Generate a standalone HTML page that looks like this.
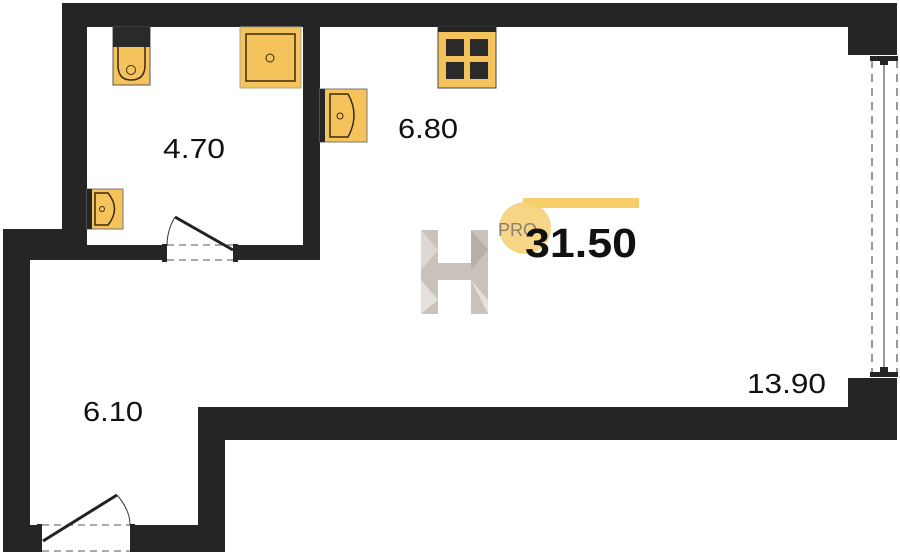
<!DOCTYPE html>
<html><head><meta charset="utf-8"><style>
html,body{margin:0;padding:0;background:#fff;}
svg{display:block;}
text{font-family:"Liberation Sans",sans-serif;}
</style></head><body>
<svg width="900" height="554" viewBox="0 0 900 554" xmlns="http://www.w3.org/2000/svg">
<g fill="#252525">
<rect x="62" y="3" width="835" height="24"/>
<rect x="62" y="3" width="25" height="257"/>
<rect x="303" y="27" width="17" height="233"/>
<rect x="62" y="245" width="100" height="15"/>
<rect x="238" y="245" width="82" height="15"/>
<rect x="3" y="229" width="84" height="31"/>
<rect x="3" y="229" width="27" height="323"/>
<rect x="3" y="525" width="35" height="27"/>
<rect x="135" y="525" width="90" height="27"/>
<rect x="198" y="407" width="27" height="145"/>
<rect x="198" y="407" width="699" height="33"/>
<rect x="848" y="3" width="49" height="52"/>
<rect x="848" y="378" width="49" height="62"/>
<rect x="162" y="244" width="5" height="18"/>
<rect x="233" y="244" width="5" height="18"/>
<rect x="37" y="524" width="5" height="28"/>
<rect x="130" y="524" width="5" height="28"/>
</g>
<g stroke="#333" fill="none">
<line x1="872" y1="60" x2="872" y2="374" stroke-dasharray="8,6"/>
<line x1="897" y1="60" x2="897" y2="374" stroke-dasharray="8,6"/>
<line x1="884" y1="62" x2="884" y2="370"/>
</g>
<rect x="870" y="56" width="28" height="5" fill="#252525"/>
<rect x="880" y="56" width="8" height="9" fill="#252525"/>
<rect x="870" y="372" width="28" height="5" fill="#252525"/>
<rect x="880" y="367" width="8" height="9" fill="#252525"/>
<g stroke="#555" fill="none" stroke-dasharray="7,5">
<line x1="167" y1="245" x2="233" y2="245"/>
<line x1="167" y1="260" x2="233" y2="260"/>
</g>
<line x1="233" y1="250" x2="175" y2="217" stroke="#222" stroke-width="3"/>
<path d="M175 217 Q167 230 167 246" stroke="#333" fill="none"/>
<g stroke="#555" fill="none" stroke-dasharray="7,5">
<line x1="42" y1="525" x2="130" y2="525"/>
<line x1="42" y1="551" x2="130" y2="551"/>
</g>
<line x1="43" y1="541" x2="117" y2="495" stroke="#222" stroke-width="3"/>
<path d="M117 495 Q130 510 130 525" stroke="#333" fill="none"/>
<rect x="113" y="27" width="37" height="58" fill="#f5c35c" stroke="#555"/>
<rect x="113" y="27" width="37" height="20" fill="#2a2a2a"/>
<path d="M118 47 V65 Q118 80 131 80 Q145 80 145 65 V47" fill="none" stroke="#3a2a10" stroke-width="1.5"/>
<circle cx="131" cy="70" r="4.5" fill="none" stroke="#3a2a10"/>
<rect x="240" y="27" width="61" height="61" fill="#f5c35c" stroke="#aa8"/>
<rect x="246" y="34" width="49" height="47" fill="none" stroke="#3a2a10" stroke-width="1.5"/>
<circle cx="270" cy="58" r="4" fill="none" stroke="#3a2a10"/>
<rect x="320" y="89" width="47" height="53" fill="#f5c35c" stroke="#777"/>
<rect x="320" y="89" width="5" height="53" fill="#252525"/>
<path d="M330 94 H348 Q360 115 348 137 H330 Z" fill="none" stroke="#3a2a10" stroke-width="1.5"/>
<circle cx="340" cy="116" r="3" fill="none" stroke="#3a2a10"/>
<rect x="87" y="189" width="36" height="40" fill="#f5c35c" stroke="#777"/>
<rect x="87" y="189" width="5" height="40" fill="#252525"/>
<path d="M95 193 H108 Q121 209 108 225 H95 Z" fill="none" stroke="#3a2a10" stroke-width="1.5"/>
<circle cx="102" cy="209" r="2.5" fill="none" stroke="#3a2a10"/>
<rect x="438" y="27" width="58" height="61" fill="#f5c35c" stroke="#444"/>
<rect x="438" y="27" width="58" height="5" fill="#252525"/>
<rect x="446" y="39" width="18" height="17" fill="#2a2a2a"/>
<rect x="470" y="39" width="18" height="17" fill="#2a2a2a"/>
<rect x="446" y="62" width="18" height="17" fill="#2a2a2a"/>
<rect x="470" y="62" width="18" height="17" fill="#2a2a2a"/>
<g fill="#c9c2bb">
<rect x="421" y="230" width="17" height="84"/>
<rect x="471" y="230" width="17" height="84"/>
<rect x="438" y="263" width="33" height="17"/>
</g>
<polygon points="421,230 438,250 421,270" fill="#ddd8d3"/>
<polygon points="471,230 488,250 471,270" fill="#b8b0a8"/>
<polygon points="421,280 438,300 421,314" fill="#e4e0dc"/>
<polygon points="471,280 488,300 488,314" fill="#e4e0dc"/>
<rect x="523" y="198" width="116" height="10" fill="#f7cf6a"/>
<circle cx="525" cy="228" r="26" fill="#f7d27a" opacity="0.9"/>
<text x="498" y="236" font-size="18" fill="#8a8070">PRO</text>
<text x="163" y="158" font-size="28" fill="#111" textLength="62" lengthAdjust="spacingAndGlyphs">4.70</text>
<text x="398" y="138" font-size="28" fill="#111" textLength="60" lengthAdjust="spacingAndGlyphs">6.80</text>
<text x="83" y="421" font-size="28" fill="#111" textLength="60" lengthAdjust="spacingAndGlyphs">6.10</text>
<text x="747" y="393" font-size="28" fill="#111" textLength="79" lengthAdjust="spacingAndGlyphs">13.90</text>
<text x="525" y="257" font-size="41" font-weight="bold" fill="#111" textLength="112" lengthAdjust="spacingAndGlyphs">31.50</text>
</svg>
</body></html>
